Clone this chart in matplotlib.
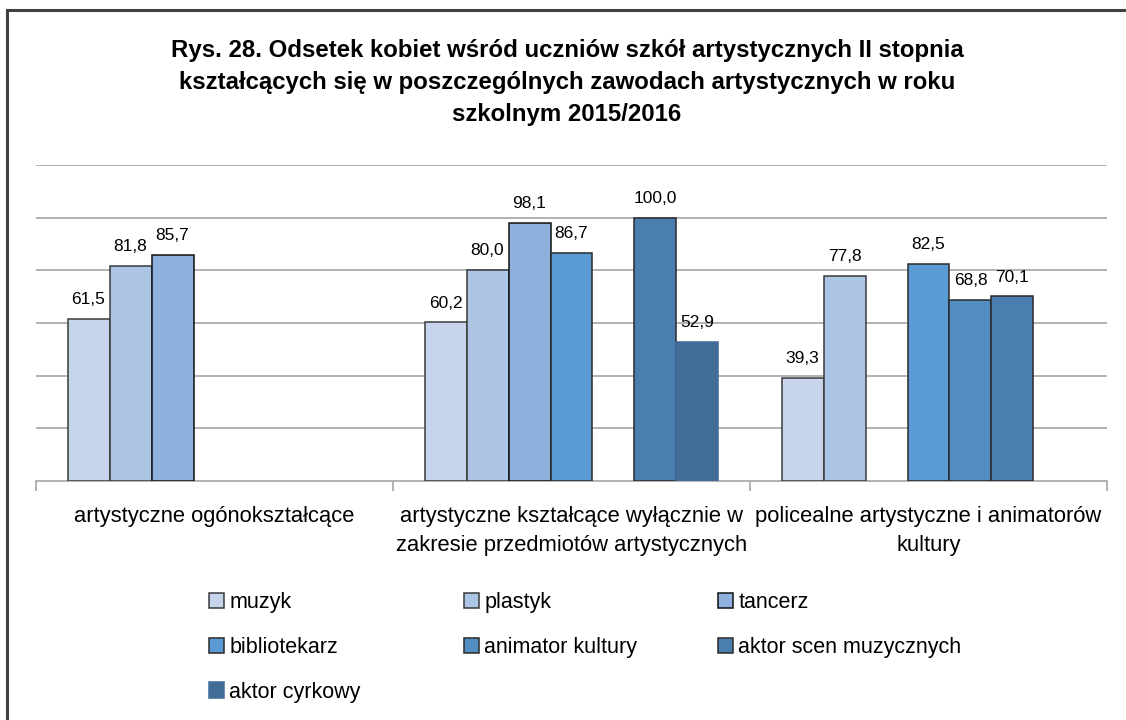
import numpy as np
import matplotlib.pyplot as plt
from matplotlib.lines import Line2D

plt.rcParams['font.family'] = ['Liberation Sans', 'DejaVu Sans']

categories = ["artystyczne ogónokształcące",
              "artystyczne kształcące wyłącznie w\nzakresie przedmiotów artystycznych",
              "policealne artystyczne i animatorów\nkultury"]
series = ["muzyk", "plastyk", "tancerz", "bibliotekarz", "animator kultury",
          "aktor scen muzycznych", "aktor cyrkowy"]
values = [
    [61.5, 60.2, 39.3],
    [81.8, 80.0, 77.8],
    [85.7, 98.1, np.nan],
    [np.nan, 86.7, 82.5],
    [np.nan, np.nan, 68.8],
    [np.nan, 100.0, 70.1],
    [np.nan, 52.9, np.nan],
]
colors = ["#c6d5eb", "#adc5e5", "#8db1dc", "#5b9bd5", "#538dc2", "#4a7eaf", "#416c98"]
edges = ["#3a3a3a", "#3a3a3a", "#111111", "#2a2a2a", "#2a2a2a", "#2a2a2a", "#416c98"]
title = ("Rys. 28. Odsetek kobiet wśród uczniów szkół artystycznych II stopnia\n"
         "kształcących się w poszczególnych zawodach artystycznych w roku\n"
         "szkolnym 2015/2016")

fig = plt.figure(figsize=(11.26, 7.2), dpi=100)
ax = fig.add_axes([36/1126, 1-481/720, (1107-36)/1126, (481-165)/720])

x = np.arange(len(categories))
w = 0.1176
handles = []
for i, s in enumerate(series):
    v = np.array(values[i], dtype=float)
    ok = ~np.isnan(v)
    pos = (x + (i - 3) * w)[ok]
    bars = ax.bar(pos, v[ok], w, color=colors[i], edgecolor=edges[i],
                  linewidth=1.1, label=s, zorder=3)
    handles.append(bars)
    for xx, vv in zip(pos, v[ok]):
        ax.text(xx, vv + 4.5, f"{vv:.1f}".replace(".", ","), ha='center',
                va='bottom', fontsize=12.5, zorder=4)

ax.set_xlim(-0.5, 2.5)
ax.set_ylim(0, 120)
ax.set_yticks(np.arange(20, 121, 20))
ax.yaxis.grid(True, color='#a6a6a6', linewidth=1.2, zorder=0)
ax.tick_params(axis='y', left=False, labelleft=False)
for sp in ['left', 'right', 'top']:
    ax.spines[sp].set_visible(False)
ax.spines['bottom'].set_color('#a6a6a6')
ax.spines['bottom'].set_linewidth(1.2)
ax.set_xticks([-0.5, 0.5, 1.5, 2.5])
ax.set_xticklabels([])
ax.tick_params(axis='x', length=7, color='#a6a6a6', width=1.2)
for xi, c in zip(x, categories):
    ax.text(xi, -9.5, c, ha='center', va='top', fontsize=15.8, linespacing=1.5)

fig.text(567/1126, 1-39/720, title, ha='center', va='top', fontsize=17.3,
         fontweight='bold', linespacing=1.5)

# legend laid out row by row in three equal columns
col_x = [198, 453, 707]
for c in range(3):
    idx = list(range(c, len(series), 3))
    fig.legend([handles[k] for k in idx], [series[k] for k in idx],
               loc='upper left', bbox_to_anchor=(col_x[c]/1126, 1-581/720),
               frameon=False, fontsize=15.5, borderpad=0, handlelength=0.7,
               handleheight=0.7, handletextpad=0.25, labelspacing=1.11)

# outer frame (left and top edges visible)
fig.add_artist(Line2D([6.5/1126, 6.5/1126], [0, 1-9.5/720], color='#404040', lw=2.2))
fig.add_artist(Line2D([6.5/1126, 1], [1-9.5/720, 1-9.5/720], color='#404040', lw=2.2))

fig.savefig('out.png', dpi=100)
